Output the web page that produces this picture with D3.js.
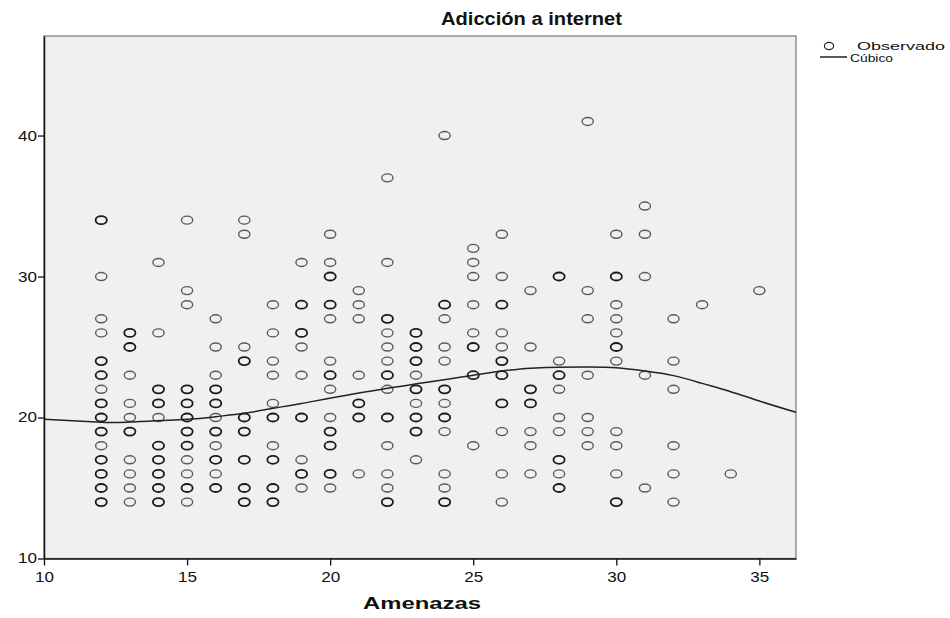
<!DOCTYPE html>
<html>
<head>
<meta charset="utf-8">
<script src="https://cdn.jsdelivr.net/npm/d3@7"></script>
<style>
  body { margin: 0; background: white; }
  text { font-family: "Liberation Sans", Arial, sans-serif; fill: #111; }
</style>
</head>
<body>
<script>
//data
var amenazasX = [12, 13, 14, 15, 16, 17, 18, 19, 20, 21, 22, 23, 24, 25, 26, 27, 28, 29, 30, 31, 32, 33, 34, 35];
var adiccionPorX = [
    [34, 30, 27, 26, 24, 23, 22, 21, 20, 19, 18, 17, 16, 15, 14],
    [26, 25, 23, 21, 20, 19, 17, 16, 15, 14],
    [31, 26, 22, 21, 20, 18, 17, 16, 15, 14],
    [34, 29, 28, 22, 21, 20, 19, 18, 17, 16, 15, 14],
    [27, 25, 23, 22, 21, 20, 19, 18, 17, 16, 15],
    [34, 33, 25, 24, 20, 19, 17, 15, 14],
    [28, 26, 24, 23, 21, 20, 18, 17, 15, 14],
    [31, 28, 26, 25, 23, 20, 17, 16, 15],
    [33, 31, 30, 28, 27, 24, 23, 22, 20, 19, 18, 16, 15],
    [29, 28, 27, 23, 21, 20, 16],
    [37, 31, 27, 26, 25, 24, 23, 22, 20, 18, 16, 15, 14],
    [26, 25, 24, 23, 22, 21, 20, 19, 17],
    [40, 28, 27, 25, 24, 22, 21, 20, 19, 16, 15, 14],
    [32, 31, 30, 28, 26, 25, 23, 18],
    [33, 30, 28, 26, 25, 24, 23, 21, 19, 16, 14],
    [29, 25, 22, 21, 19, 18, 16],
    [30, 24, 23, 22, 20, 19, 17, 16, 15],
    [41, 29, 27, 23, 20, 19, 18],
    [33, 30, 28, 27, 26, 25, 24, 19, 18, 16, 14],
    [35, 33, 30, 23, 15],
    [27, 24, 22, 18, 16, 14],
    [28],
    [16],
    [29]
];
//points that look darker (several cases on the same spot)
var repetidos = [
    [12, 34], [12, 24], [12, 23], [12, 21], [12, 20], [12, 19], [12, 17], [12, 16], [12, 15], [12, 14],
    [13, 26], [13, 25], [13, 19],
    [14, 22], [14, 21], [14, 18], [14, 17], [14, 16], [14, 15], [14, 14],
    [15, 22], [15, 21], [15, 20], [15, 19], [15, 18], [15, 15],
    [16, 22], [16, 21], [16, 19], [16, 17], [16, 15],
    [17, 24], [17, 20], [17, 19], [17, 17], [17, 15], [17, 14],
    [18, 20], [18, 17], [18, 15], [18, 14],
    [19, 28], [19, 26], [19, 20], [19, 16],
    [20, 30], [20, 28], [20, 23], [20, 19], [20, 18], [20, 16],
    [21, 21], [21, 20],
    [22, 27], [22, 23], [22, 20], [22, 14],
    [23, 26], [23, 25], [23, 24], [23, 22], [23, 20], [23, 19],
    [24, 28], [24, 22], [24, 20], [24, 14],
    [25, 25], [25, 23],
    [26, 28], [26, 24], [26, 23], [26, 21],
    [27, 22], [27, 21],
    [28, 30], [28, 23], [28, 17], [28, 15],
    [30, 30], [30, 25], [30, 14]
];
//cubic fit line, read at a few x positions
var curvaX = [10, 12, 13, 15, 16, 17, 18, 19, 22, 25, 27, 29, 30, 31, 32, 33, 34, 35, 36.28];
var curvaY = [19.88, 19.66, 19.68, 19.87, 20.06, 20.3, 20.65, 21.0, 22.07, 23.0, 23.5, 23.58, 23.53, 23.3, 22.97, 22.42, 21.83, 21.17, 20.37];
var ticksX = [10, 15, 20, 25, 30, 35];
var ticksY = [10, 20, 30, 40];
var titulo = "Adicción a internet";
var tituloX = "Amenazas";
var leyenda = ["Observado", "Cúbico"];

const W = 950, H = 618;
const plotLeft = 44, plotRight = 796, plotTop = 36, plotBottom = 558.5;

var svg = d3.select("body")
    .append("svg")
    .attr("width", W)
    .attr("height", H);

var x = d3.scaleLinear().domain([10, 36.28]).range([plotLeft, plotRight]);
var y = d3.scaleLinear().domain([10, 47.06]).range([plotBottom, plotTop]);

//plot background + frame
svg.append("rect")
    .attr("x", plotLeft)
    .attr("y", plotTop)
    .attr("width", plotRight - plotLeft)
    .attr("height", plotBottom - plotTop)
    .style("fill", "#f0f0f0")
    .style("stroke", "#808080")
    .style("stroke-width", 1.3);

//flatten the points
var puntos = [];
amenazasX.forEach(function (a, i) {
    adiccionPorX[i].forEach(function (v) {
        puntos.push({x: a, y: v});
    });
});
var claves = new Set(repetidos.map(function (p) { return p[0] + "_" + p[1]; }));

svg.append("g")
    .selectAll("ellipse")
    .data(puntos)
    .enter()
    .append("ellipse")
    .attr("cx", function (d) { return x(d.x); })
    .attr("cy", function (d) { return y(d.y); })
    .attr("rx", 5.6)
    .attr("ry", 4)
    .style("fill", "none")
    .style("stroke", function (d) {
        return claves.has(d.x + "_" + d.y) ? "#1a1a1a" : "#5a5a5a";
    })
    .style("stroke-width", function (d) {
        return claves.has(d.x + "_" + d.y) ? 1.8 : 1.4;
    });

//cubic curve
var curva = curvaX.map(function (v, i) { return [v, curvaY[i]]; });
svg.append("path")
    .datum(curva)
    .attr("d", d3.line()
        .x(function (d) { return x(d[0]); })
        .y(function (d) { return y(d[1]); })
        .curve(d3.curveNatural))
    .style("fill", "none")
    .style("stroke", "#222")
    .style("stroke-width", 1.5);

//axes
var ejeX = svg.append("g")
    .attr("transform", "translate(0," + plotBottom + ")")
    .call(d3.axisBottom(x).tickValues(ticksX).tickSize(7).tickSizeOuter(0).tickFormat(d3.format("d")));
var ejeY = svg.append("g")
    .attr("transform", "translate(" + plotLeft + ",0)")
    .call(d3.axisLeft(y).tickValues(ticksY).tickSize(6).tickSizeOuter(0).tickFormat(d3.format("d")));

[ejeX, ejeY].forEach(function (g) {
    g.select(".domain").style("stroke", "#111").style("stroke-width", 1.5);
    g.selectAll(".tick line").style("stroke", "#111").style("stroke-width", 1.3);
    g.selectAll(".tick text")
        .style("font-size", "14px")
        .style("font-family", "'Liberation Sans', Arial, sans-serif")
        .attr("fill", "#111")
        .attr("textLength", 19)
        .attr("lengthAdjust", "spacingAndGlyphs");
});
ejeX.selectAll(".tick text").attr("dy", "0.95em");
ejeY.selectAll(".tick text").attr("x", -7);

//titles
svg.append("text")
    .attr("x", 441)
    .attr("y", 25)
    .attr("textLength", 181)
    .attr("lengthAdjust", "spacingAndGlyphs")
    .style("font-size", "18px")
    .style("font-weight", "bold")
    .text(titulo);

svg.append("text")
    .attr("x", 363)
    .attr("y", 609)
    .attr("textLength", 118)
    .attr("lengthAdjust", "spacingAndGlyphs")
    .style("font-size", "17px")
    .style("font-weight", "bold")
    .text(tituloX);

//legend
svg.append("ellipse")
    .attr("cx", 829)
    .attr("cy", 46)
    .attr("rx", 4.6)
    .attr("ry", 3.6)
    .style("fill", "none")
    .style("stroke", "#222")
    .style("stroke-width", 1.2);
svg.append("line")
    .attr("x1", 820)
    .attr("x2", 847)
    .attr("y1", 57)
    .attr("y2", 57)
    .style("stroke", "#222")
    .style("stroke-width", 1.5);
svg.append("text")
    .attr("x", 857)
    .attr("y", 50)
    .attr("textLength", 88)
    .attr("lengthAdjust", "spacingAndGlyphs")
    .style("font-size", "11px")
    .text(leyenda[0]);
svg.append("text")
    .attr("x", 850)
    .attr("y", 62)
    .attr("textLength", 43)
    .attr("lengthAdjust", "spacingAndGlyphs")
    .style("font-size", "11px")
    .text(leyenda[1]);
</script>
</body>
</html>
